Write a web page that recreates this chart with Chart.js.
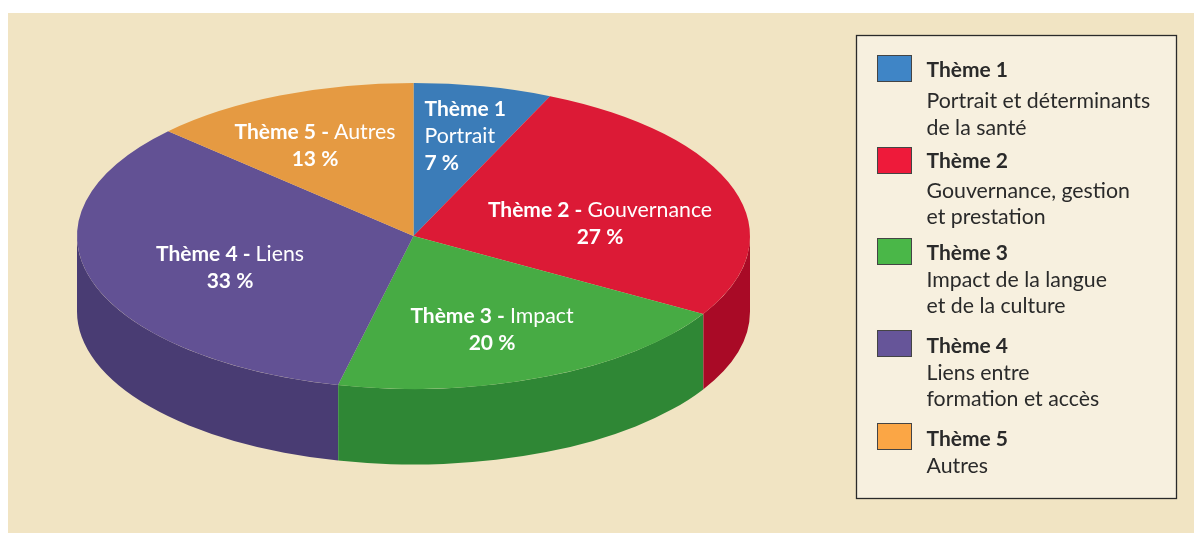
<!DOCTYPE html>
<html>
<head>
<meta charset="utf-8">
<style>
    html, body { margin: 0; padding: 0; background: #fff; overflow: hidden; }
    #chart { display: block; }
</style>
<script src="https://cdn.jsdelivr.net/npm/chart.js@4"></script>
</head>
<body>
<canvas id="chart" width="1194" height="533"></canvas>
<script>
const themes = ['Thème 1', 'Thème 2', 'Thème 3', 'Thème 4', 'Thème 5'];
const shortNames = ['Portrait', 'Gouvernance', 'Impact', 'Liens', 'Autres'];
const percentLabels = ['7 %', '27 %', '20 %', '33 %', '13 %'];
// wedge sizes as drawn in the picture, the printed labels are rounded
const values = [6.65, 26.85, 20.1, 33.4, 13];
const legendDetails = [
    ['Portrait et déterminants', 'de la santé'],
    ['Gouvernance, gestion', 'et prestation'],
    ['Impact de la langue', 'et de la culture'],
    ['Liens entre', 'formation et accès'],
    ['Autres']
];

const topColors = ['#3b7cb8', '#dc1a36', '#47ab44', '#625194', '#e59a42'];
const sideColors = ['#2f6090', '#a90a26', '#2f8735', '#493c73', '#b87a30'];
const legendColors = ['#3f85c6', '#ee1a3a', '#4ab748', '#665599', '#fba645'];

const FONT = 'Lato, "Noto Sans", sans-serif';
const BOLD_SIZE = 21;
const REGULAR_SIZE = 21.3;
const SQUASH = 153 / 336.5;
const DEPTH = 75.5;

function setFont(ctx, bold) {
    ctx.font = bold ? `bold ${BOLD_SIZE}px ${FONT}` : `normal ${REGULAR_SIZE}px ${FONT}`;
}

function textRun(ctx, parts, x, y, align) {
    // parts: [text, bold]
    let total = 0;
    for (const p of parts) {
        setFont(ctx, p[1]);
        total += ctx.measureText(p[0]).width;
    }
    let cur = align === 'center' ? x - total / 2 : x;
    ctx.textAlign = 'left';
    for (const p of parts) {
        setFont(ctx, p[1]);
        ctx.fillText(p[0], cur, y);
        cur += ctx.measureText(p[0]).width;
    }
}

const pie3d = {
    id: 'pie3d',
    beforeDraw(chart) {
        const ctx = chart.ctx;
        ctx.save();
        ctx.fillStyle = '#f1e4c3';
        ctx.fillRect(8, 13, 1186, 520);
        ctx.restore();
    },
    beforeDatasetsDraw(chart) {
        const ctx = chart.ctx;
        const arcs = chart.getDatasetMeta(0).data;
        // side wall of the front half
        arcs.forEach((arc, i) => {
            const start = Math.max(arc.startAngle, 0);
            const end = Math.min(arc.endAngle, Math.PI);
            if (end <= start) {
                return;
            }
            const ry = arc.outerRadius * SQUASH;
            ctx.beginPath();
            ctx.ellipse(arc.x, arc.y, arc.outerRadius, ry, 0, start, end);
            ctx.ellipse(arc.x, arc.y + DEPTH, arc.outerRadius, ry, 0, end, start, true);
            ctx.closePath();
            ctx.fillStyle = sideColors[i];
            ctx.fill();
            // thin light seam where two walls meet
            if (arc.endAngle < Math.PI) {
                const ex = arc.x + arc.outerRadius * Math.cos(end);
                const ey = arc.y + ry * Math.sin(end);
                ctx.beginPath();
                ctx.moveTo(ex, ey);
                ctx.lineTo(ex, ey + DEPTH);
                ctx.strokeStyle = 'rgba(255,255,255,0.3)';
                ctx.lineWidth = 0.8;
                ctx.stroke();
            }
        });
        ctx.save();
        const a = arcs[0];
        ctx.translate(a.x, a.y);
        ctx.scale(1, SQUASH);
        ctx.translate(-a.x, -a.y);
    },
    afterDatasetsDraw(chart) {
        const ctx = chart.ctx;
        ctx.restore();
        drawSliceLabels(ctx);
        drawLegendBox(ctx);
    }
};

function drawSliceLabels(ctx) {
    ctx.save();
    ctx.fillStyle = '#fff';
    ctx.textBaseline = 'alphabetic';
    // Thème 1 is stacked and left aligned, it is too narrow otherwise
    textRun(ctx, [[themes[0], true]], 424.5, 116, 'left');
    textRun(ctx, [[shortNames[0], false]], 424.5, 143, 'left');
    textRun(ctx, [[percentLabels[0], true]], 424.5, 170, 'left');
    const anchors = [null, [600, 217], [492, 323], [230, 261], [315, 139]];
    for (let i = 1; i < themes.length; i++) {
        const [x, y] = anchors[i];
        textRun(ctx, [[themes[i] + ' - ', true], [shortNames[i], false]], x, y, 'center');
        textRun(ctx, [[percentLabels[i], true]], x, y + 27, 'center');
    }
    ctx.restore();
}

function drawLegendBox(ctx) {
    ctx.save();
    ctx.fillStyle = '#f7f0df';
    ctx.fillRect(857, 35, 319, 463);
    ctx.strokeStyle = '#2a2a2a';
    ctx.lineWidth = 1.3;
    ctx.strokeRect(856.5, 35.5, 320, 463);

    const swatchTops = [55, 147, 238, 330, 423];
    const titleLines = [77, 168, 260, 353, 446];
    const detailLines = [[108, 135], [198, 224], [287, 313], [380, 406], [473]];
    ctx.textBaseline = 'alphabetic';
    themes.forEach((t, i) => {
        ctx.fillStyle = legendColors[i];
        ctx.fillRect(877, swatchTops[i], 35, 27);
        ctx.strokeStyle = '#444';
        ctx.lineWidth = 1;
        ctx.strokeRect(877.5, swatchTops[i] + 0.5, 34, 26);
        ctx.fillStyle = '#2a2a2a';
        textRun(ctx, [[t, true]], 926.5, titleLines[i], 'left');
        legendDetails[i].forEach((line, j) => {
            textRun(ctx, [[line, false]], 926.5, detailLines[i][j], 'left');
        });
    });
    ctx.restore();
}

new Chart(document.querySelector('#chart').getContext('2d'), {
    type: 'pie',
    data: {
        labels: themes,
        datasets: [{
            data: values,
            backgroundColor: topColors,
            borderWidth: 0,
            radius: 336.5,
            clip: false
        }]
    },
    options: {
        responsive: false,
        animation: false,
        layout: { padding: { left: 0, right: 367, top: 0, bottom: 61 } },
        plugins: {
            legend: { display: false },
            tooltip: { enabled: false }
        }
    },
    plugins: [pie3d]
});
</script>
</body>
</html>
